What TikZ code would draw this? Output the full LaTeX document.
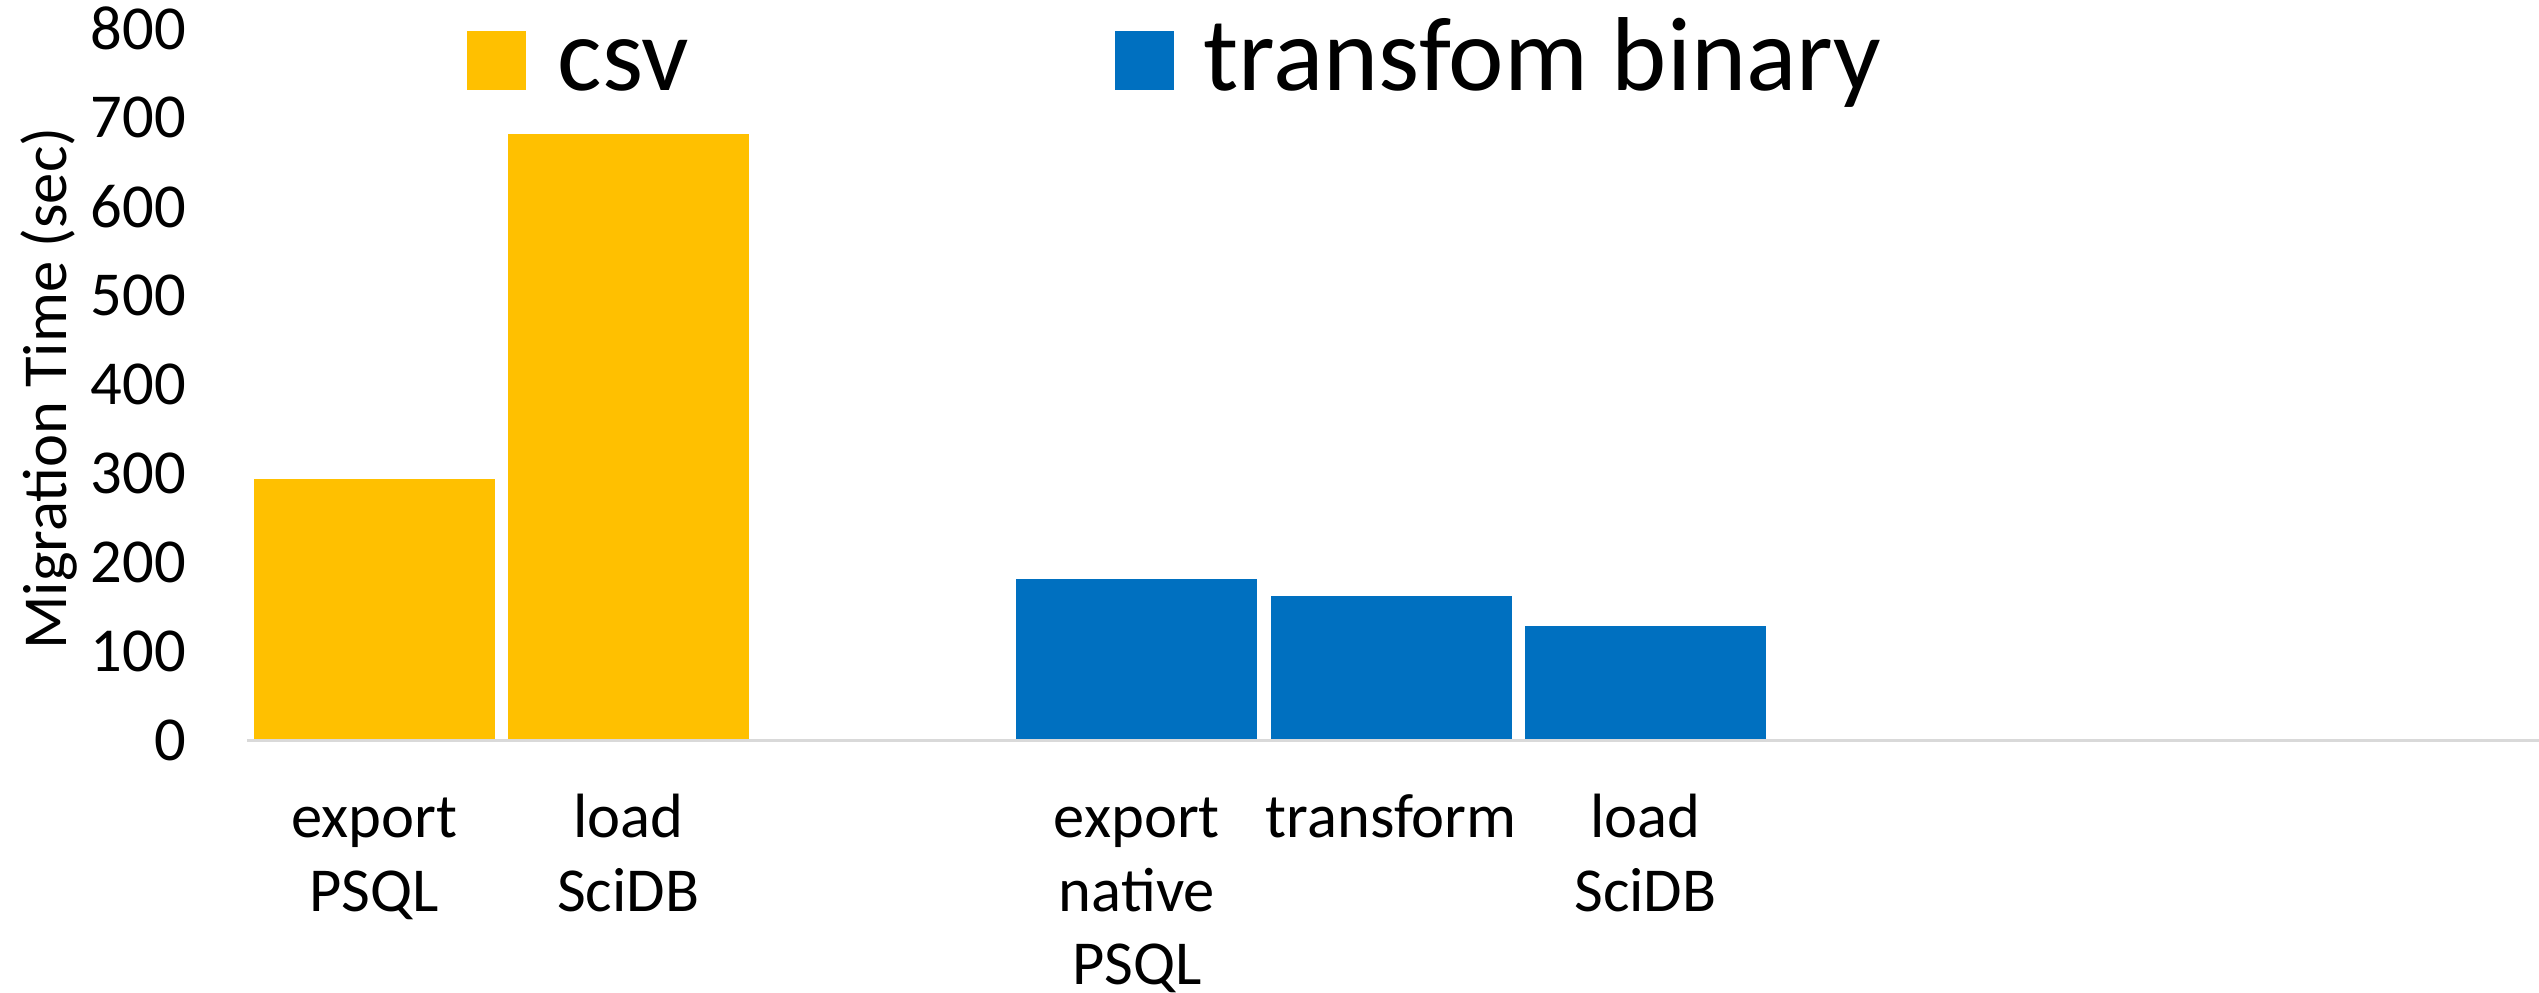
\documentclass[tikz,border=0pt]{standalone}
\usepackage{fontspec}
\setmainfont{Carlito}

\definecolor{csvgold}{HTML}{FFC000}
\definecolor{binblue}{HTML}{0070C0}
\definecolor{axisgray}{HTML}{D9D9D9}

\begin{document}
\begin{tikzpicture}[
  axisfont/.style={font=\fontsize{17.8pt}{20.9pt}\selectfont},
  ticklabel/.style={axisfont, anchor=east, inner sep=0pt},
  catlabel/.style={axisfont, anchor=base, align=center, inner sep=0pt},
  legendkey/.style={minimum size=0.59cm, inner sep=0pt},
  legendlabel/.style={font=\fontsize{29.9pt}{35pt}\selectfont, anchor=base west, inner sep=0pt}
]
  \useasboundingbox (0, -2.53) rectangle (25.39, 7.40);

  \foreach \v in {0, 100, ..., 800} {
    \node[ticklabel] (tick\v) at (1.867, \v*0.00889) {\v};
  }
  \node[axisfont, rotate=90, inner sep=0pt] (ytitle) at (0.49, 3.515) {Migration Time (sec)};

  \foreach \s/\v in {1/293, 2/681} {
    \fill[csvgold] (\s*2.543 - 0.008, 0) rectangle ++(2.41, \v*0.00889);
  }
  \foreach \s/\v in {4/181, 5/162, 6/128} {
    \fill[binblue] (\s*2.543 - 0.008, 0) rectangle ++(2.41, \v*0.00889);
  }

  \coordinate (origin) at (2.47, -0.005);
  \coordinate (axisend) at (25.39, -0.005);
  \draw[axisgray, line width=0.7pt] (origin) -- (axisend);

  \foreach \s/\n/\txt in {1/2/{export\\PSQL}, 2/2/{load\\SciDB}, 4/3/{export\\native\\PSQL}, 5/1/{transform}, 6/2/{load\\SciDB}} {
    \node[catlabel] (cat\s) at (\s*2.543 + 1.197, -0.98 - \n*0.7345 + 0.7345) {\txt};
  }

  \node[legendkey, fill=csvgold] (csvkey) at (4.963, 6.795) {};
  \node[legendlabel] (csvtext) at (5.57, 6.49) {csv};
  \node[legendkey, fill=binblue] (binkey) at (11.445, 6.795) {};
  \node[legendlabel] (bintext) at (12.03, 6.49) {transfom binary};
\end{tikzpicture}
\end{document}
